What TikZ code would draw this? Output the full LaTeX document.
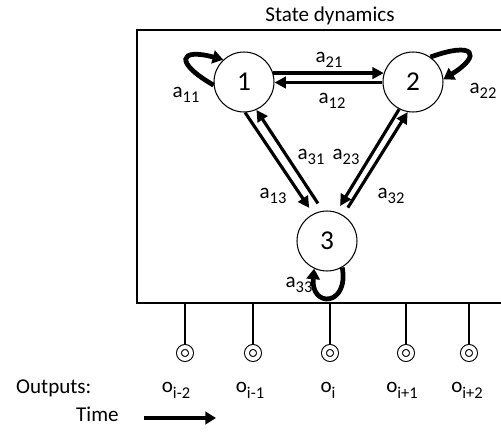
\documentclass[tikz,border=0pt]{standalone}
\usepackage{fontspec}
\setmainfont{Carlito}
\usetikzlibrary{arrows.meta, calc, positioning}
\newcommand{\sbs}[1]{\raisebox{-0.55ex}{\scalebox{0.78}{#1}}}

\begin{document}
\begin{tikzpicture}[x=0.02cm, y=0.02cm, font=\fontsize{12}{14}\selectfont,
  state/.style={circle, draw, line width=0.6pt, minimum size=1.2cm, inner sep=0pt, font=\fontsize{15.5}{18}\selectfont},
  trans/.style={line width=1.8pt, -{Triangle[length=6.5pt, width=6.5pt]}},
  selfloop/.style={line width=2.7pt, -{Triangle[length=6pt, width=7.5pt]}},
  prob/.style={font=\fontsize{12}{14}\selectfont, inner sep=0pt},
  obs/.style={circle, draw, line width=0.6pt, double, double distance=2.2pt, minimum size=0.24cm, inner sep=0pt, outer sep=1.7pt},
  stem/.style={line width=0.9pt}]
\useasboundingbox (0,0) rectangle (501,-432);
\clip (0,0) rectangle (501,-432);
% frame and title
\node[draw, line width=1.1pt, outer sep=0pt, anchor=north west, minimum width=7.7cm, minimum height=5.46cm] (dyn) at (137,-30) {};
\node[anchor=base] (ttl) at (330,-22) {State dynamics};
% hidden states
\node[state] (s1) at (244,-82) {1};
\node[state] (s2) at (413,-82) {2};
\node[state] (s3) at (327,-241) {3};
% transitions
\draw[trans] (s1.17) -- (s2.163);
\draw[trans] (s2.181) -- (s1.-1);
\draw[trans, shorten >=4pt] (s1.-88) -- (s3.117);
\draw[trans, shorten <=5pt] (s3.98) -- (s1.-66);
\draw[trans, shorten >=4pt] (s2.-117) -- (s3.72);
\draw[trans, shorten <=5pt] (s3.58) -- (s2.-100);
\draw[selfloop] (s1.186) to[out=150, in=165, looseness=4.3] (s1.133);
\draw[selfloop] (s2.55) to[out=20, in=32, looseness=4.6] (s2.5);
\draw[selfloop] (s3.-60) to[out=-80, in=-95, looseness=3.6] (s3.-115);
% transition probabilities
\node[prob] (p21) at (329,-60) {a\sbs{21}};
\node[prob] (p12) at (332,-101) {a\sbs{12}};
\node[prob] (p11) at (186,-95) {a\sbs{11}};
\node[prob] (p22) at (483,-91) {a\sbs{22}};
\node[prob] (p31) at (311,-157) {a\sbs{31}};
\node[prob] (p23) at (346,-157) {a\sbs{23}};
\node[prob] (p13) at (273,-196) {a\sbs{13}};
\node[prob] (p32) at (391,-196) {a\sbs{32}};
\node[prob] (p33) at (299,-285) {a\sbs{33}};
% emitted outputs
\node[obs] (o1) at (185,-353) {};
\node[obs] (o2) at (253,-353) {};
\node[obs] (o3) at (330,-353) {};
\node[obs] (o4) at (406,-353) {};
\node[obs] (o5) at (469,-353) {};
\draw[stem] (dyn.south -| o1) -- (o1);
\draw[stem] (dyn.south -| o2) -- (o2);
\draw[stem] (dyn.south -| o3) -- (o3);
\draw[stem] (dyn.south -| o4) -- (o4);
\draw[stem] (dyn.south -| o5) -- (o5);
\node[anchor=base west] (outs) at (10,-394) {Outputs:};
\node[anchor=base] (lo1) at (176,-393) {o\sbs{i-2}};
\node[anchor=base] (lo2) at (250,-393) {o\sbs{i-1}};
\node[anchor=base] (lo3) at (328,-393) {o\sbs{i}};
\node[anchor=base] (lo4) at (402,-393) {o\sbs{i+1}};
\node[anchor=base] (lo5) at (467,-393) {o\sbs{i+2}};
% time axis
\node[anchor=base west] (time) at (70,-422) {Time};
\coordinate (t0) at (144,-418);
\coordinate (t1) at (216,-418);
\draw[line width=2.3pt, -{Triangle[length=6pt, width=7pt]}] (t0) -- (t1);
\end{tikzpicture}
\end{document}
